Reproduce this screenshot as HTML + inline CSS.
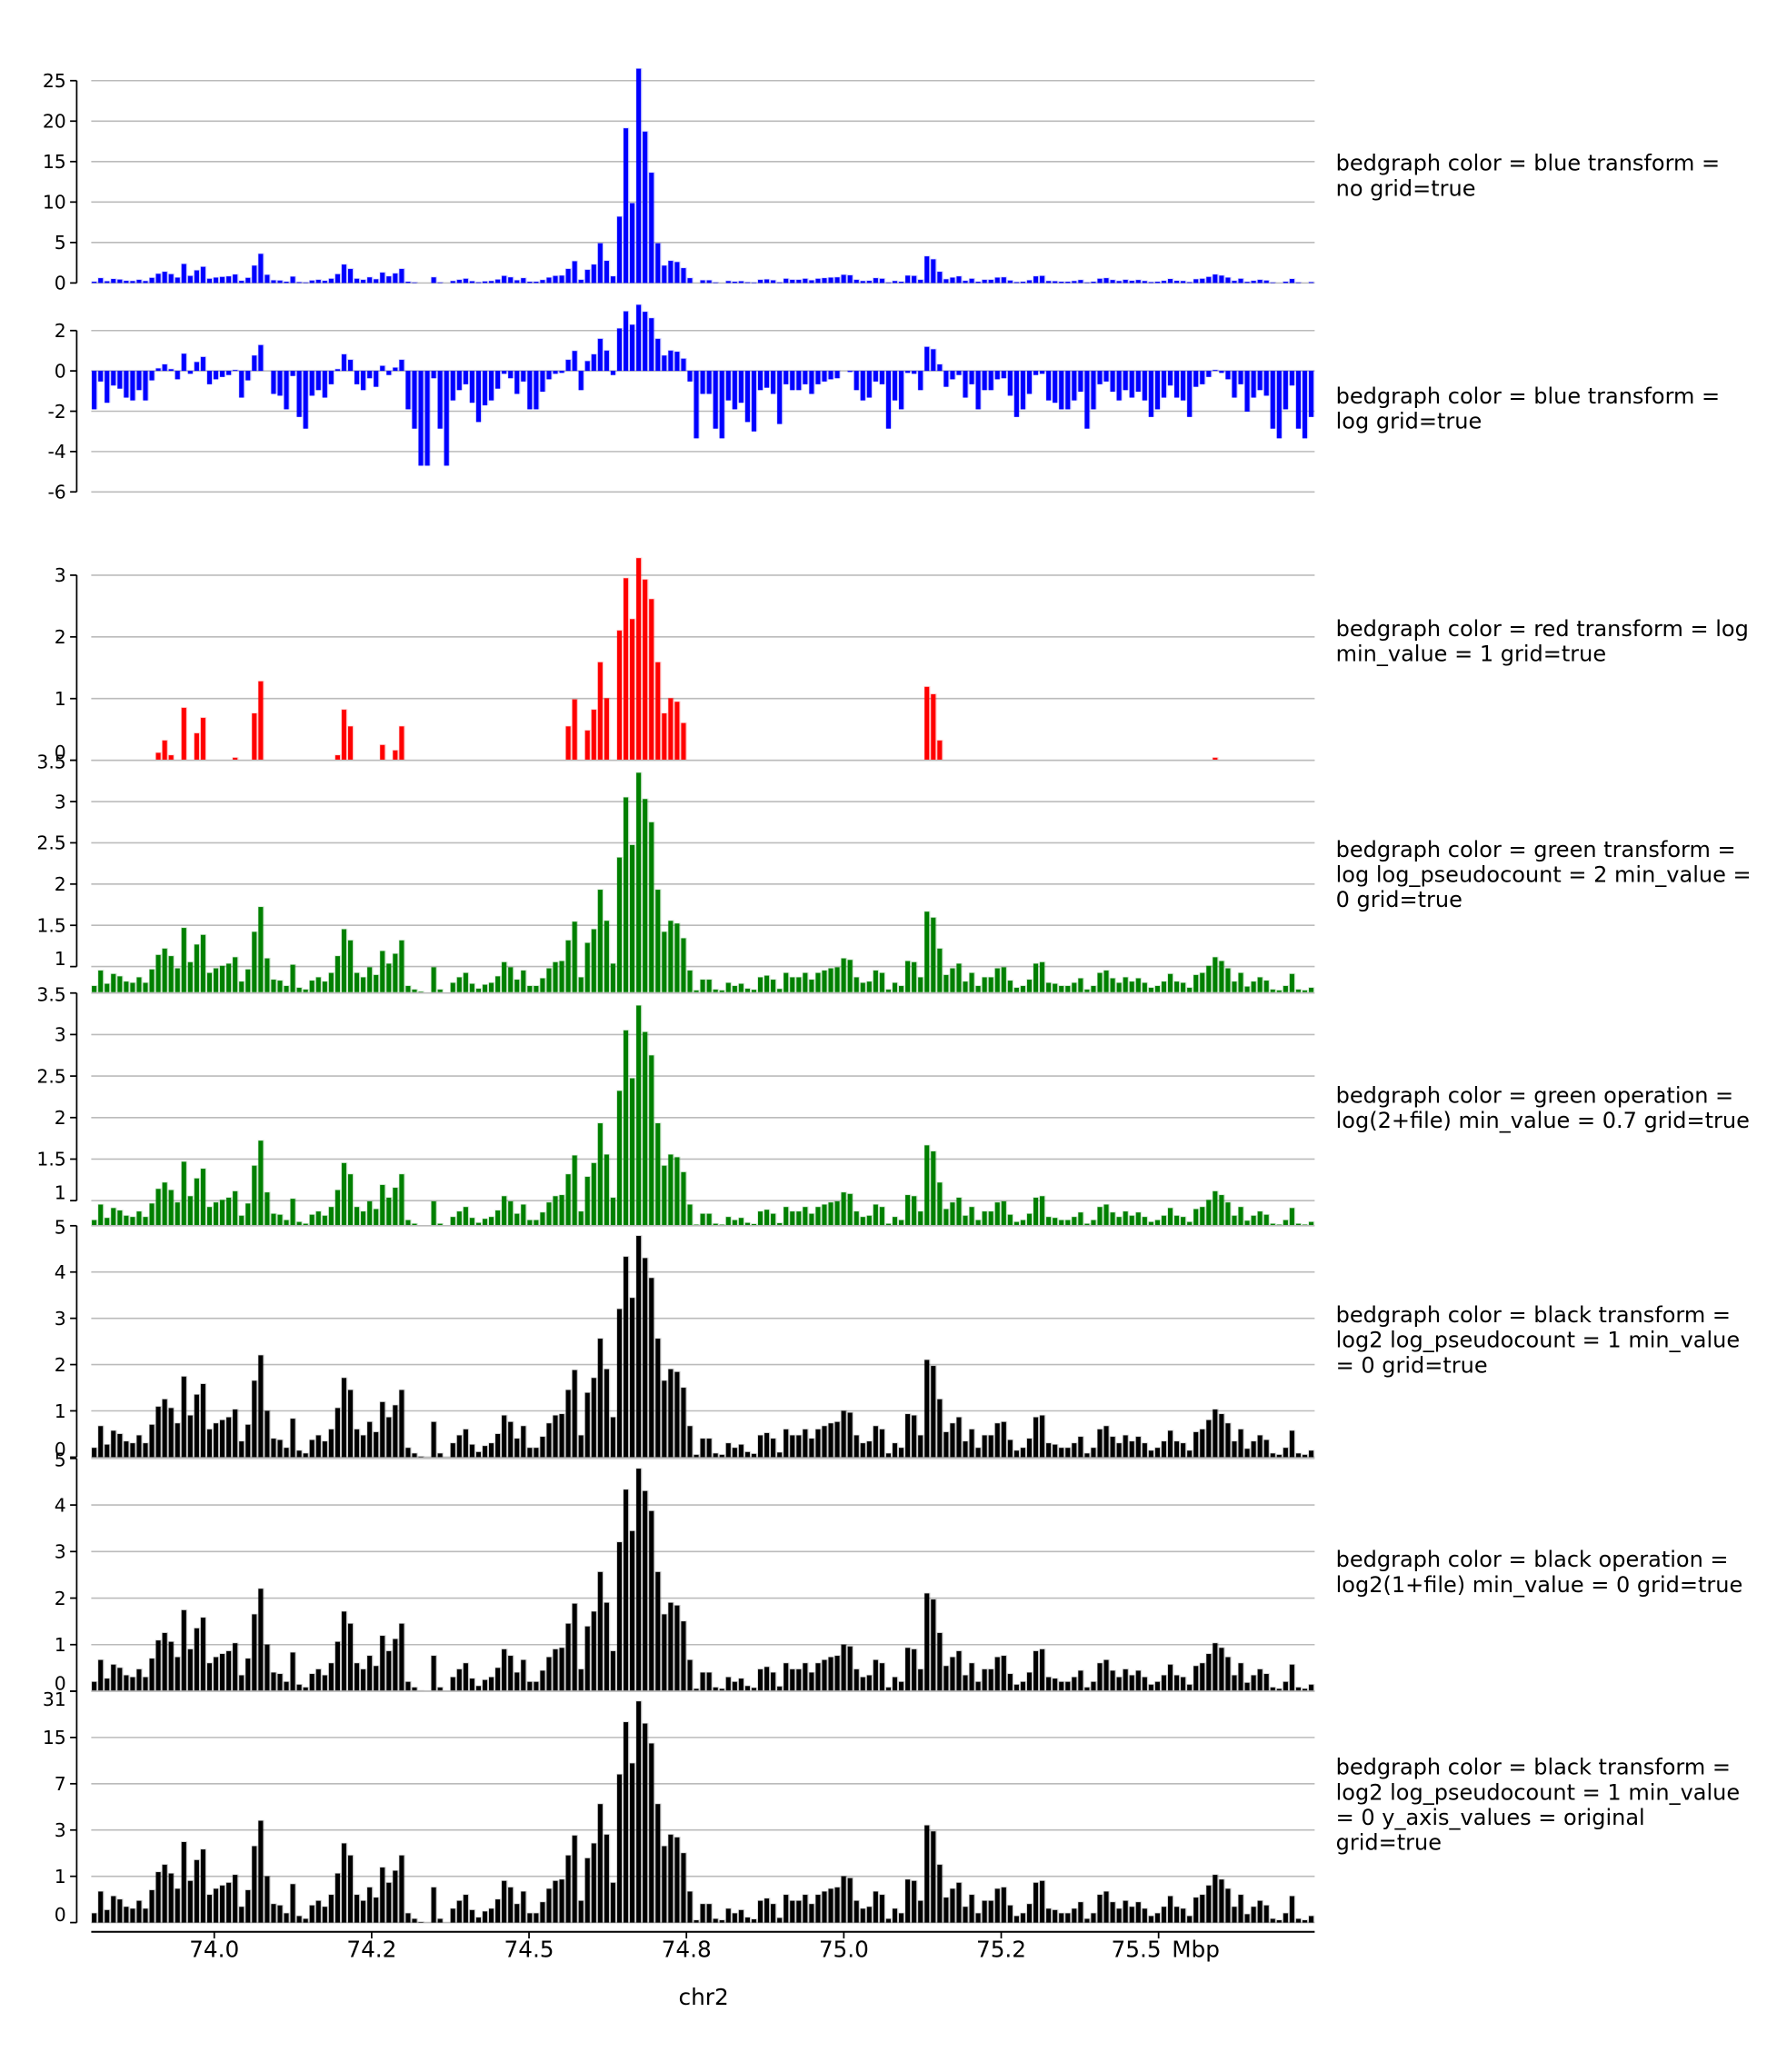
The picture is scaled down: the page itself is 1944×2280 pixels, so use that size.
<!DOCTYPE html>
<html><head><meta charset="utf-8"><style>
html,body{margin:0;padding:0;background:#fff;}
svg{display:block;font-family:"DejaVu Sans","Liberation Sans",sans-serif;}
</style></head><body>
<svg id="chart" width="1944" height="2280" viewBox="0 0 1336 1567" preserveAspectRatio="none" xmlns="http://www.w3.org/2000/svg"></svg>
<script>
const signalLog2 = [0.2,0.67,0.27,0.57,0.5,0.34,0.3,0.47,0.3,0.7,1.09,1.25,1.06,0.73,1.74,0.9,1.35,1.58,0.6,0.73,0.8,0.86,1.03,0.34,0.7,1.65,2.2,1.0,0.4,0.37,0.2,0.83,0.14,0.08,0.37,0.47,0.34,0.6,1.06,1.71,1.45,0.6,0.47,0.76,0.54,1.19,0.86,1.12,1.45,0.2,0.08,0.01,0,0.76,0.08,0,0.3,0.47,0.6,0.27,0.11,0.24,0.3,0.5,0.9,0.76,0.4,0.67,0.2,0.2,0.44,0.73,0.9,0.93,1.45,1.88,0.47,1.39,1.71,2.56,1.9,0.86,3.2,4.33,3.44,4.78,4.3,3.87,2.56,1.65,1.9,1.84,1.5,0.67,0.05,0.4,
0.4,0.08,0.05,0.3,0.2,0.27,0.11,0.07,0.47,0.52,0.4,0.1,0.6,0.47,0.47,0.6,0.4,0.6,0.67,0.73,0.76,1.0,0.96,0.47,0.3,0.34,0.67,0.6,0.08,0.3,0.2,0.93,0.9,0.47,2.1,1.97,1.25,0.54,0.73,0.86,0.34,0.6,0.2,0.47,0.47,0.73,0.76,0.37,0.14,0.2,0.4,0.86,0.9,0.3,0.27,0.2,0.2,0.3,0.44,0.08,0.2,0.6,0.67,0.44,0.3,0.47,0.34,0.44,0.3,0.14,0.2,0.34,0.57,0.34,0.3,0.14,0.54,0.6,0.8,1.03,0.93,0.73,0.34,0.6,0.18,0.34,0.47,0.37,0.08,0.05,0.2,0.57,0.08,0.05,0.14];
const xTickLabels = ["74.0","74.2","74.5","74.8","75.0","75.2","75.5"];
const xTickPositions = [0, 1, 2, 3, 4, 5, 6];
const ticksP1 = [0,5,10,15,20,25];
const ticksP2 = [2,0,-2,-4,-6];
const ticksP3 = [3,2,1,0];
const ticksP45 = [3.5,3,2.5,2,1.5,1];
const ticksP67 = [5,4,3,2,1,0];
const ticksP8 = [5,4,3,2,1,0];
const ticksP8Labels = ["31","15","7","3","1","0"];

const NS="http://www.w3.org/2000/svg";
const svg=document.getElementById('chart');
function mk(tag,attrs,parent){const e=document.createElementNS(NS,tag);for(const k in attrs)e.setAttribute(k,attrs[k]);(parent||svg).appendChild(e);return e;}

const X0=69,X1=994;
const nb=signalLog2.length, bw=(X1-X0)/nb;
const raw=signalLog2.map(v=>Math.pow(2,v)-1);
function xOf(i){return X0+i*bw;}

const panels=[
 {name:'blue-no-transform',color:'#0000ff',top:61,bot:214,vmin:0,vmax:25,ticks:ticksP1,labels:null,f:v=>v,base:0,axTop:61,axBot:214,
  title:["bedgraph color = blue transform =","no grid=true"],ty:124},
 {name:'blue-log',color:'#0000ff',top:250,bot:372,vmin:-6,vmax:2,ticks:ticksP2,labels:null,f:v=>Math.max(Math.log(Math.max(v,0.005)),-4.7),base:0,axTop:250,axBot:372,
  title:["bedgraph color = blue transform =","log grid=true"],ty:300},
 {name:'red-log-min1',color:'#ff0000',top:435,bot:575,vmin:0,vmax:3,ticks:ticksP3,labels:null,f:v=>Math.max(Math.log(Math.max(v,1)),0),base:0,axTop:435,axBot:575,
  title:["bedgraph color = red transform = log","min_value = 1 grid=true"],ty:476},
 {name:'green-log-pseudo2',color:'#008000',top:575,bot:731,vmin:1,vmax:3.5,ticks:ticksP45,labels:null,f:v=>Math.log(v+2),base:0.69,axTop:575,axBot:731,clipBot:751,
  title:["bedgraph color = green transform =","log log_pseudocount = 2 min_value =","0 grid=true"],ty:643},
 {name:'green-operation',color:'#008000',top:751,bot:908,vmin:1,vmax:3.5,ticks:ticksP45,labels:null,f:v=>Math.log(v+2),base:0.69,axTop:751,axBot:908,clipBot:927,
  title:["bedgraph color = green operation =","log(2+file) min_value = 0.7 grid=true"],ty:829},
 {name:'black-log2',color:'#000000',top:927,bot:1102,vmin:0,vmax:5,ticks:ticksP67,labels:null,f:v=>Math.log2(v+1),base:0,axTop:927,axBot:1102,
  title:["bedgraph color = black transform =","log2 log_pseudocount = 1 min_value","= 0 grid=true"],ty:995},
 {name:'black-operation',color:'#000000',top:1103,bot:1279,vmin:0,vmax:5,ticks:ticksP67,labels:null,f:v=>Math.log2(v+1),base:0,axTop:1103,axBot:1279,
  title:["bedgraph color = black operation =","log2(1+file) min_value = 0 grid=true"],ty:1180},
 {name:'black-log2-original',color:'#000000',top:1279,bot:1454,vmin:0,vmax:5,ticks:ticksP8,labels:ticksP8Labels,f:v=>Math.log2(v+1),base:0,axTop:1279,axBot:1454,
  title:["bedgraph color = black transform =","log2 log_pseudocount = 1 min_value","= 0 y_axis_values = original","grid=true"],ty:1337}
];

panels.forEach((p,pi)=>{
  const g=mk('g',{});
  
  
  const y=v=>p.bot-(v-p.vmin)/(p.vmax-p.vmin)*(p.bot-p.top);
  p.ticks.forEach(t=>{
    const gl=mk('line',{x1:X0,x2:X1,y1:y(t),y2:y(t),stroke:'#bbbbbb','stroke-width':1.1},g);
    
    
  });
  const yb=Math.min(y(p.base), p.clipBot||9999);
  signalLog2.forEach((_,i)=>{
    const val=p.f(raw[i]);
    let yv=y(val);
    const x=xOf(i);
    const ytop=Math.min(yv,yb), h=Math.abs(yv-yb);
    if(h<0.3) return;
    const bg=mk('rect',{x:x,y:ytop-0.5,width:bw,height:h+0.5,fill:p.color,opacity:0.18},g);
    
    
    const r=mk('rect',{x:x+bw*0.1,y:ytop,width:bw*0.72,height:h,fill:p.color},g);
    
    
  });
  const ax=mk('line',{x1:58,x2:58,y1:p.axTop,y2:p.axBot,stroke:'#000','stroke-width':1.2},g);
  
  
  p.ticks.forEach((t,k)=>{
    const tk=mk('line',{x1:53,x2:58,y1:y(t),y2:y(t),stroke:'#000','stroke-width':1.2},g);
    
    
    let ly=y(t)+5;
    if(k===0 && (pi>=3)) ly=y(t)+6;
    if(pi===7 && k===0) ly=y(t)+11;
    if(k===p.ticks.length-1 && pi>=2) ly=y(t)-1;
    const tl=mk('text',{x:50,y:ly,'font-size':14,'text-anchor':'end',fill:'#000'},g);
    tl.textContent=p.labels?p.labels[k]:String(t);
    
    
  });
  p.title.forEach((line,k)=>{
    const t=mk('text',{x:1010,y:p.ty+k*19+5,'font-size':16.5,fill:'#000'},g);
    t.textContent=line;
    
    
  });
});

const xa=mk('line',{x1:X0,x2:X1,y1:1461,y2:1461,stroke:'#000','stroke-width':1.4});


xTickPositions.forEach((p,k)=>{
  const tx=162+p*119;
  const tk=mk('line',{x1:tx,x2:tx,y1:1461,y2:1466,stroke:'#000','stroke-width':1.2});
  
  
  const last = k===xTickLabels.length-1;
  const tl=mk('text',{x:last?tx+2:tx,y:1480,'font-size':17,'text-anchor':last?'end':'middle',fill:'#000'});
  tl.textContent=xTickLabels[k];
  
  
});
const mbp=mk('text',{x:886,y:1480,'font-size':17,fill:'#000'});
mbp.textContent='Mbp';


const chr=mk('text',{x:532,y:1516,'font-size':17,'text-anchor':'middle',fill:'#000'});
chr.textContent='chr2';


</script>
</body></html>
